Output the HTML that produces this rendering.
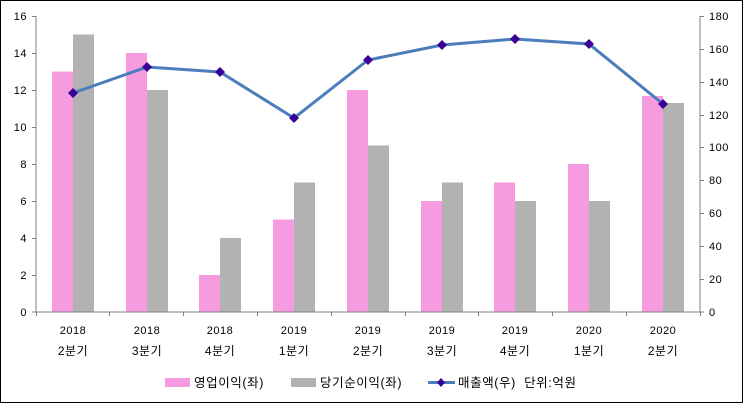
<!DOCTYPE html>
<html><head><meta charset="utf-8"><style>
body{margin:0;background:#fff}
svg text{font-family:"Liberation Sans","Noto Sans CJK KR",sans-serif;font-size:11px;fill:#000;letter-spacing:0.5px}
svg text.lg{font-size:12.5px;letter-spacing:0.6px}
svg text.q{font-size:12px;letter-spacing:0.5px}
</style></head><body>
<svg width="743" height="403" xmlns="http://www.w3.org/2000/svg">
<rect x="0.5" y="0.5" width="742" height="402" fill="#fff" stroke="#000"/>
<g id="bars">
<rect x="52" y="71.5" width="21" height="240.5" fill="#f79be0"/><rect x="73" y="34.5" width="21" height="277.5" fill="#b2b2b2"/>
<rect x="126" y="53" width="21" height="259" fill="#f79be0"/><rect x="147" y="90" width="21" height="222" fill="#b2b2b2"/>
<rect x="199" y="275" width="21" height="37" fill="#f79be0"/><rect x="220" y="238" width="21" height="74" fill="#b2b2b2"/>
<rect x="273" y="219.5" width="21" height="92.5" fill="#f79be0"/><rect x="294" y="182.5" width="21" height="129.5" fill="#b2b2b2"/>
<rect x="347" y="90" width="21" height="222" fill="#f79be0"/><rect x="368" y="145.5" width="21" height="166.5" fill="#b2b2b2"/>
<rect x="421" y="201" width="21" height="111" fill="#f79be0"/><rect x="442" y="182.5" width="21" height="129.5" fill="#b2b2b2"/>
<rect x="494" y="182.5" width="21" height="129.5" fill="#f79be0"/><rect x="515" y="201" width="21" height="111" fill="#b2b2b2"/>
<rect x="568" y="164" width="21" height="148" fill="#f79be0"/><rect x="589" y="201" width="21" height="111" fill="#b2b2b2"/>
<rect x="642" y="96" width="21" height="216" fill="#f79be0"/><rect x="663" y="103" width="21" height="209" fill="#b2b2b2"/>
</g>
<g stroke="#808080" stroke-width="1" fill="none">
<line x1="36" y1="16" x2="36" y2="312"/>
<line x1="700" y1="16" x2="700" y2="312"/>
<line x1="32" y1="312" x2="704" y2="312"/>
</g>
<g stroke="#808080">
<line x1="32" y1="16.5" x2="36" y2="16.5"/><line x1="32" y1="53.5" x2="36" y2="53.5"/><line x1="32" y1="90.5" x2="36" y2="90.5"/><line x1="32" y1="127.5" x2="36" y2="127.5"/><line x1="32" y1="164.5" x2="36" y2="164.5"/><line x1="32" y1="201.5" x2="36" y2="201.5"/><line x1="32" y1="238.5" x2="36" y2="238.5"/><line x1="32" y1="275.5" x2="36" y2="275.5"/>
<line x1="700" y1="16.5" x2="704" y2="16.5"/><line x1="700" y1="49.5" x2="704" y2="49.5"/><line x1="700" y1="82.5" x2="704" y2="82.5"/><line x1="700" y1="115.5" x2="704" y2="115.5"/><line x1="700" y1="147.5" x2="704" y2="147.5"/><line x1="700" y1="180.5" x2="704" y2="180.5"/><line x1="700" y1="213.5" x2="704" y2="213.5"/><line x1="700" y1="246.5" x2="704" y2="246.5"/><line x1="700" y1="279.5" x2="704" y2="279.5"/>
<line x1="109.5" y1="312" x2="109.5" y2="316"/><line x1="183.5" y1="312" x2="183.5" y2="316"/><line x1="257.5" y1="312" x2="257.5" y2="316"/><line x1="331.5" y1="312" x2="331.5" y2="316"/><line x1="405.5" y1="312" x2="405.5" y2="316"/><line x1="478.5" y1="312" x2="478.5" y2="316"/><line x1="552.5" y1="312" x2="552.5" y2="316"/><line x1="626.5" y1="312" x2="626.5" y2="316"/><line x1="36.5" y1="312" x2="36.5" y2="316"/><line x1="700.5" y1="312" x2="700.5" y2="316"/>
</g>
<g text-anchor="end">
<text x="27" y="20">16</text><text x="27" y="57">14</text><text x="27" y="94">12</text><text x="27" y="131">10</text><text x="27" y="168">8</text><text x="27" y="205">6</text><text x="27" y="242">4</text><text x="27" y="279">2</text><text x="27" y="316">0</text>
</g>
<g>
<text x="709" y="20">180</text><text x="709" y="53">160</text><text x="709" y="86">140</text><text x="709" y="119">120</text><text x="709" y="151">100</text><text x="709" y="184">80</text><text x="709" y="217">60</text><text x="709" y="250">40</text><text x="709" y="283">20</text><text x="709" y="316">0</text>
</g>
<g text-anchor="middle">
<text x="73" y="334">2018</text><text class="q" x="73" y="355">2분기</text>
<text x="147" y="334">2018</text><text class="q" x="147" y="355">3분기</text>
<text x="220" y="334">2018</text><text class="q" x="220" y="355">4분기</text>
<text x="294" y="334">2019</text><text class="q" x="294" y="355">1분기</text>
<text x="368" y="334">2019</text><text class="q" x="368" y="355">2분기</text>
<text x="442" y="334">2019</text><text class="q" x="442" y="355">3분기</text>
<text x="515" y="334">2019</text><text class="q" x="515" y="355">4분기</text>
<text x="589" y="334">2020</text><text class="q" x="589" y="355">1분기</text>
<text x="663" y="334">2020</text><text class="q" x="663" y="355">2분기</text>
</g>
<polyline points="73,93 147,67 220,72 294,118 368,60 442,45 515,39 589,44 663,104" fill="none" stroke="#4a7ebb" stroke-width="3"/>
<g fill="#3a0098">
<path d="M73,88 l5,5 l-5,5 l-5,-5z"/><path d="M147,62 l5,5 l-5,5 l-5,-5z"/><path d="M220,67 l5,5 l-5,5 l-5,-5z"/><path d="M294,113 l5,5 l-5,5 l-5,-5z"/><path d="M368,55 l5,5 l-5,5 l-5,-5z"/><path d="M442,40 l5,5 l-5,5 l-5,-5z"/><path d="M515,34 l5,5 l-5,5 l-5,-5z"/><path d="M589,39 l5,5 l-5,5 l-5,-5z"/><path d="M663,99 l5,5 l-5,5 l-5,-5z"/>
</g>
<rect x="165" y="378" width="25" height="9" fill="#f79be0"/>
<text class="lg" x="194" y="387">영업이익(좌)</text>
<rect x="291" y="378" width="25" height="9" fill="#b2b2b2"/>
<text class="lg" x="320" y="387">당기순이익(좌)</text>
<line x1="428" y1="382.5" x2="455" y2="382.5" stroke="#4a7ebb" stroke-width="3"/>
<path d="M441,378 l4,4.5 l-4,4.5 l-4,-4.5z" fill="#3a0098"/>
<text class="lg" x="458" y="387" xml:space="preserve">매출액(우)  단위:억원</text>
</svg>
</body></html>
